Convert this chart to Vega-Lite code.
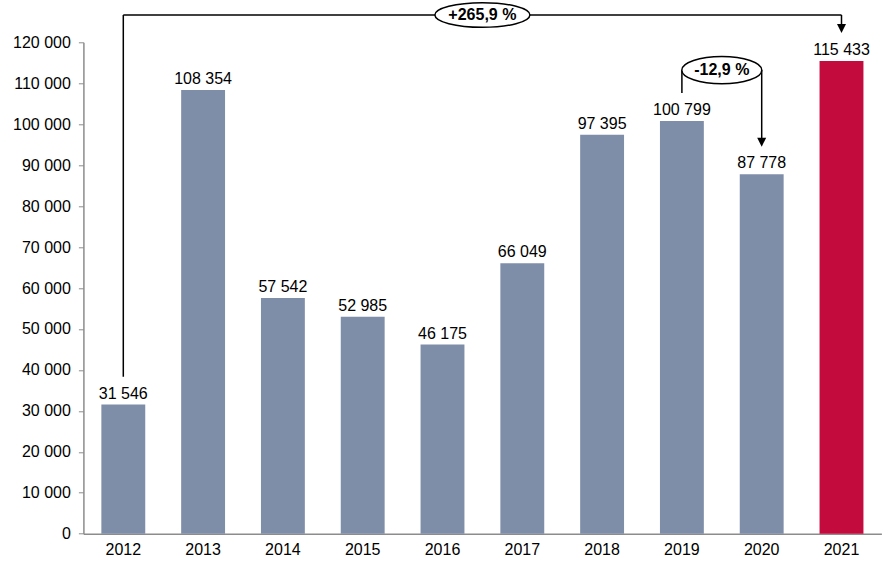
{
  "$schema": "https://vega.github.io/schema/vega-lite/v6.json",
  "autosize": {"type": "none"},
  "width": 798,
  "height": 491.4,
  "padding": {"left": 83.4, "top": 42.3, "right": 9.6, "bottom": 33.3},
  "config": {
    "locale": {"number": {"decimal": ",", "thousands": " ", "grouping": [3], "currency": ["", ""]}},
    "view": {"stroke": null},
    "font": "Liberation Sans",
    "axis": {"labelFont": "Liberation Sans", "labelFontSize": 16, "labelColor": "#000000", "grid": false, "title": null, "domainColor": "#8c8c8c", "tickColor": "#8c8c8c", "domainWidth": 1.5}
  },
  "datasets": {
    "bars": [
      {"year": "2012", "value": 31546},
      {"year": "2013", "value": 108354},
      {"year": "2014", "value": 57542},
      {"year": "2015", "value": 52985},
      {"year": "2016", "value": 46175},
      {"year": "2017", "value": 66049},
      {"year": "2018", "value": 97395},
      {"year": "2019", "value": 100799},
      {"year": "2020", "value": 87778},
      {"year": "2021", "value": 115433}
    ],
    "vlines": [
      {"year": "2012", "y": 38300, "y2": 126670},
      {"year": "2021", "y": 126670, "y2": 123400},
      {"year": "2019", "y": 107600, "y2": 113200},
      {"year": "2020", "y": 113200, "y2": 95600}
    ],
    "hlines": [
      {"year": "2012", "year2": "2021", "y": 126670}
    ],
    "arrows": [
      {"year": "2021", "y": 123400},
      {"year": "2020", "y": 95600}
    ],
    "bigOval": [
      {"year": "2016", "y": 126670, "label": "+265,9 %"}
    ],
    "smallOval": [
      {"year": "2019", "y": 113200, "label": "-12,9 %"}
    ]
  },
  "layer": [
    {
      "data": {"name": "bars"},
      "mark": {"type": "bar"},
      "encoding": {
        "x": {"field": "year", "type": "nominal", "sort": null,
              "scale": {"paddingInner": 0.45, "paddingOuter": 0.225},
              "axis": {"labelAngle": 0, "ticks": false, "labelPadding": 8}},
        "y": {"field": "value", "type": "quantitative",
              "scale": {"domain": [0, 120000], "nice": false},
              "axis": {"values": [0, 10000, 20000, 30000, 40000, 50000, 60000, 70000, 80000, 90000, 100000, 110000, 120000], "labelExpr": "format(datum.value, ',')", "tickSize": 5, "labelPadding": 8}},
        "color": {"condition": {"test": "datum.year === '2021'", "value": "#C30B3D"}, "value": "#7F8EA8"}
      }
    },
    {
      "data": {"name": "bars"},
      "mark": {"type": "text", "fontSize": 16, "font": "Liberation Sans", "color": "#000000", "baseline": "alphabetic", "dy": -6},
      "encoding": {
        "x": {"field": "year", "type": "nominal", "sort": null},
        "y": {"field": "value", "type": "quantitative"},
        "text": {"field": "value", "type": "quantitative", "format": ","}
      }
    },
    {
      "data": {"name": "vlines"},
      "mark": {"type": "rule", "color": "#000000", "strokeWidth": 1.5},
      "encoding": {
        "x": {"field": "year", "type": "nominal", "sort": null},
        "y": {"field": "y", "type": "quantitative"},
        "y2": {"field": "y2"}
      }
    },
    {
      "data": {"name": "hlines"},
      "mark": {"type": "rule", "color": "#000000", "strokeWidth": 1.5},
      "encoding": {
        "x": {"field": "year", "type": "nominal", "sort": null},
        "x2": {"field": "year2"},
        "y": {"field": "y", "type": "quantitative"}
      }
    },
    {
      "data": {"name": "arrows"},
      "mark": {"type": "point", "shape": "M-1,-1L1,-1L0,1Z", "filled": true, "color": "#000000", "size": 81, "opacity": 1},
      "encoding": {
        "x": {"field": "year", "type": "nominal", "sort": null},
        "y": {"field": "y", "type": "quantitative"}
      }
    },
    {
      "data": {"name": "bigOval"},
      "mark": {"type": "point", "shape": "M-1,0C-1,-0.1436,-0.5523,-0.26,0,-0.26C0.5523,-0.26,1,-0.1436,1,0C1,0.1436,0.5523,0.26,0,0.26C-0.5523,0.26,-1,0.1436,-1,0Z", "filled": true, "fill": "#ffffff", "stroke": "#000000", "strokeWidth": 1.5, "size": 9025, "opacity": 1},
      "encoding": {
        "x": {"field": "year", "type": "nominal", "sort": null, "bandPosition": 1.409},
        "y": {"field": "y", "type": "quantitative"}
      }
    },
    {
      "data": {"name": "bigOval"},
      "mark": {"type": "text", "fontSize": 16, "fontWeight": "bold", "font": "Liberation Sans", "color": "#000000", "baseline": "middle", "align": "center"},
      "encoding": {
        "x": {"field": "year", "type": "nominal", "sort": null, "bandPosition": 1.409},
        "y": {"field": "y", "type": "quantitative"},
        "text": {"field": "label"}
      }
    },
    {
      "data": {"name": "smallOval"},
      "mark": {"type": "point", "shape": "M-1,0C-1,-0.1878,-0.5523,-0.34,0,-0.34C0.5523,-0.34,1,-0.1878,1,0C1,0.1878,0.5523,0.34,0,0.34C-0.5523,0.34,-1,0.1878,-1,0Z", "filled": true, "fill": "#ffffff", "stroke": "#000000", "strokeWidth": 1.5, "size": 6400, "opacity": 1},
      "encoding": {
        "x": {"field": "year", "type": "nominal", "sort": null, "bandPosition": 1.409},
        "y": {"field": "y", "type": "quantitative"}
      }
    },
    {
      "data": {"name": "smallOval"},
      "mark": {"type": "text", "fontSize": 16, "fontWeight": "bold", "font": "Liberation Sans", "color": "#000000", "baseline": "middle", "align": "center"},
      "encoding": {
        "x": {"field": "year", "type": "nominal", "sort": null, "bandPosition": 1.409},
        "y": {"field": "y", "type": "quantitative"},
        "text": {"field": "label"}
      }
    }
  ]
}
